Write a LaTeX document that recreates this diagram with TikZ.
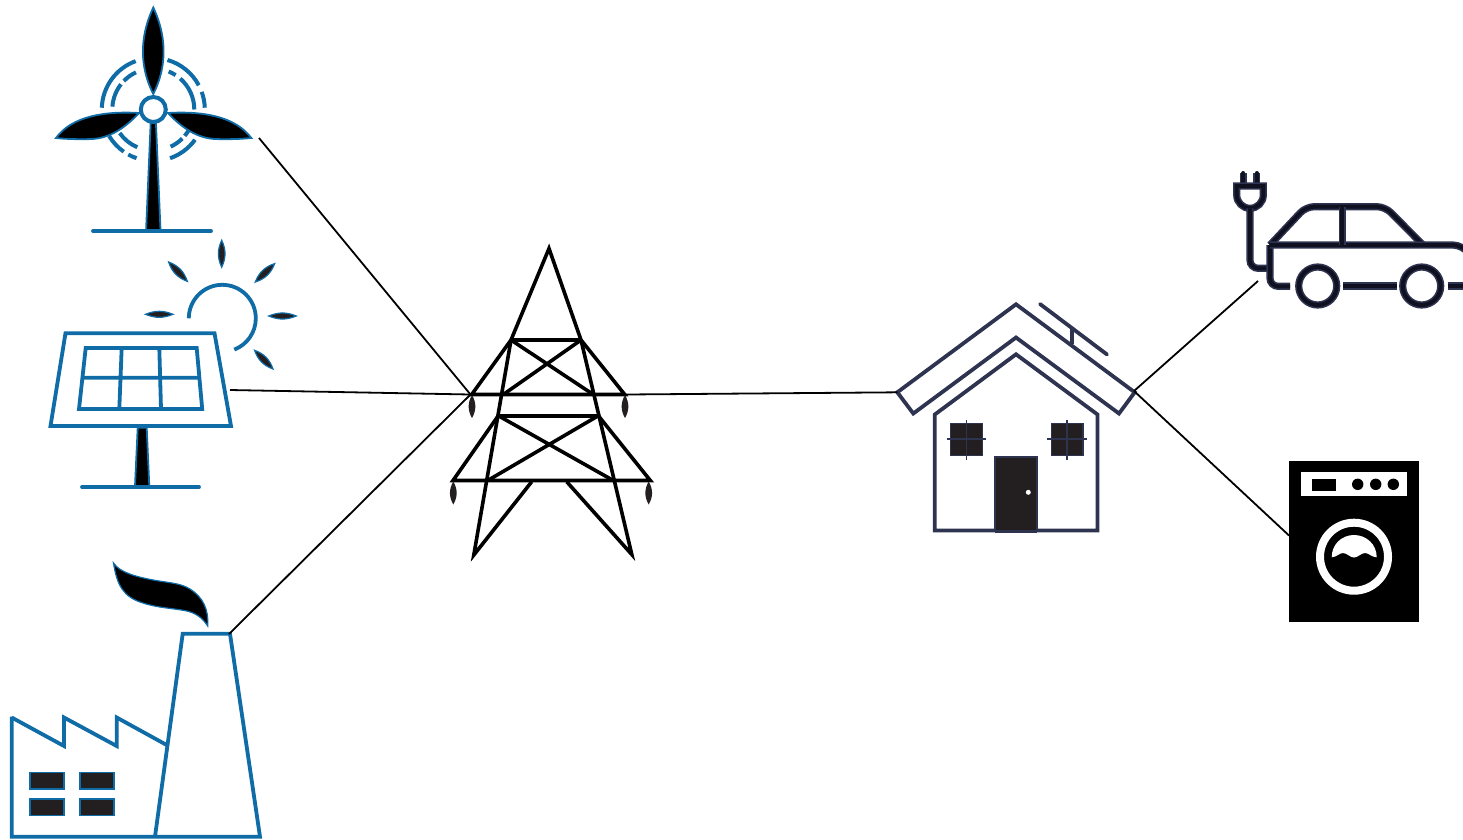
\documentclass[tikz,border=0pt]{standalone}
\usetikzlibrary{calc}
\definecolor{iconblue}{HTML}{0F6CA6}
\definecolor{navy}{HTML}{2E3350}
\definecolor{darkfill}{HTML}{231F20}
\definecolor{carcore}{HTML}{0F1020}
\tikzset{
  wire/.style={draw=black,line width=1.8pt},
  blue/.style={draw=iconblue,line width=3.8pt,line join=miter},
  bluefill/.style={draw=iconblue,line width=1.8pt,fill=black},
  ray/.style={draw=iconblue,line width=1.2pt,fill=darkfill},
  bluewin/.style={draw=iconblue,line width=1.4pt,fill=darkfill},
  steel/.style={draw=black,line width=3.6pt,line join=miter},
  insul/.style={fill=darkfill,draw=none},
  house/.style={draw=navy,line width=3.8pt,line join=miter},
  housefill/.style={draw=navy,line width=1.5pt,fill=darkfill},
  carline/.style={draw=carcore,line width=4pt,preaction={draw=navy,line width=7.2pt}},
}
\begin{document}
\begin{tikzpicture}[x=1pt,y=-1pt]
\useasboundingbox (0,0) rectangle (1463,839);
\clip (0,0) rectangle (1463,839);
% connector ends
\coordinate (windEnd) at (259,138);
\coordinate (solarEnd) at (230,390);
\coordinate (factoryEnd) at (229,634);
\coordinate (pylonWest) at (470.5,394.5);
\coordinate (pylonEast) at (626,394.5);
\coordinate (houseWest) at (897.3,392.3);
\coordinate (houseEast) at (1134,391);
\coordinate (carEnd) at (1258,281);
\coordinate (washerEnd) at (1289,535.5);
% wind turbine
\begin{scope}[shift={(153.3,109.5)},x=1pt,y=1pt]
  \foreach \a/\b in {178/110,74/28,20/2,211/235,241/251,289/324}
    \draw[iconblue,line width=4pt] (\a:51.5pt) arc[start angle=\a,end angle=\b,radius=51.5pt];
  \foreach \a/\b in {176/142,136/115,68/57,49/0,215/247,295/315,320/329}
    \draw[iconblue,line width=4pt] (\a:41pt) arc[start angle=\a,end angle=\b,radius=41pt];
\end{scope}
\path[bluefill] (150.7,122) -- (155.9,122) -- (160.5,230) -- (146.1,230) -- cycle;
\draw[blue,line cap=round] (93,231) -- (211,231);
\path[bluefill] (153.3,7.5) .. controls (138,40) and (141,70) .. (153.3,94) .. controls (165.5,70) and (168.5,40) .. (153.3,7.5) -- cycle;
\path[bluefill] (56,138) .. controls (72,116) and (105,111) .. (139,113) .. controls (125,128) and (110,138) .. (92,139) .. controls (80,139.5) and (65,139) .. (56,138) -- cycle;
\path[bluefill] (251.3,138) .. controls (235,116) and (202,111) .. (168,113) .. controls (182,128) and (197,138) .. (215,139) .. controls (227,139.5) and (242,139) .. (251.3,138) -- cycle;
\draw[iconblue,line width=4pt,fill=white] (153.3,109.5) circle[radius=12.5pt];
% solar panel
\begin{scope}[shift={(222.3,318.3)},x=1pt,y=1pt]
  \draw[iconblue,line width=3.8pt] (180:33.5pt) arc[start angle=180,end angle=-69,radius=33.5pt];
\end{scope}
\path[ray] (221.7,240.3) to[bend left=25] (221.7,267.2) to[bend left=25] (221.7,240.3) -- cycle;
\path[ray] (145.5,314.3) to[bend left=22] (173,314.3) to[bend left=22] (145.5,314.3) -- cycle;
\path[ray] (268.7,316) to[bend left=22] (296.3,316) to[bend left=22] (268.7,316) -- cycle;
\path[ray] (168.6,262) to[bend left=25] (187.4,281.4) to[bend left=25] (168.6,262) -- cycle;
\path[ray] (274.7,263.6) to[bend left=25] (255.3,282) to[bend left=25] (274.7,263.6) -- cycle;
\path[ray] (254.6,350.3) to[bend left=25] (273,369) to[bend left=25] (254.6,350.3) -- cycle;
\draw[blue] (65.5,333.2) -- (214.5,333.2) -- (231,426) -- (50.5,426) -- cycle;
\draw[blue] (85.7,348) -- (196.7,348) -- (202.2,409) -- (79,409) -- cycle;
\draw[blue] (121.7,347.7) -- (119.3,409) (159.3,347.7) -- (161,409) (81.7,377.7) -- (199.7,377.7);
\path[bluefill] (137.7,427.7) -- (146.7,427.7) -- (149.3,486) -- (135,486) -- cycle;
\draw[blue,line cap=round] (82,487) -- (199,487);
% factory
\draw[blue] (11.7,717.5) -- (64,746) -- (64,717.5) -- (116.7,746) -- (116.7,717.5) -- (166.7,745);
\draw[blue] (11.7,716.7) -- (11.7,836.7) -- (260,836.7) -- (230,633.8) -- (182.7,633.8) -- (155,836.7);
\foreach \x/\y in {30/772.7,80/772.7,30/799,80/799}
  \path[bluewin] (\x,\y) rectangle ++(34,16.3);
\path[bluefill,line width=1.2pt] (113.5,563) .. controls (120,573) and (138,577) .. (153,580) .. controls (170,583) and (180,583) .. (190,589) .. controls (203,597) and (209,610) .. (207.7,626) .. controls (202,617) and (195,613) .. (187,611) .. controls (172,608) and (158,608) .. (143,603) .. controls (123,597) and (117,585) .. (113.5,563) -- cycle;
% pylon
\draw[steel] (511,340) -- (549,248.5) -- (581,340);
\draw[steel] (511,340) -- (581,340);
\draw[steel] (511,340) -- (471.7,394.5) -- (624.7,394.5) -- (581,340);
\draw[steel] (511,340) -- (473.8,555) -- (531.7,481.7);
\draw[steel] (581,340) -- (631.8,554.5) -- (566.7,481.7);
\draw[steel] (511,340) -- (593.3,394.5) (581,340) -- (503.3,394.5);
\draw[steel] (498.3,415.7) -- (598.3,415.7);
\draw[steel] (498.3,415.7) -- (453,480.5) -- (650.3,480.5) -- (598.3,415.7);
\draw[steel] (498.3,415.7) -- (613.3,480.5) (598.3,415.7) -- (487.7,480.5);
\foreach \x/\y in {472/395,625/395,453.3/481.5,648.7/481.5}
  \path[insul] (\x,\y) to[bend left=30] (\x,\y+23) to[bend left=30] (\x,\y) -- cycle;
% house
\draw[house] (houseWest) -- (1016,304.3) -- (1134.7,392.3) -- (1119,413.5) -- (1016,337.5) -- (913.3,413.5) -- cycle;
\draw[house] (934.8,414.5) -- (1016,354.3) -- (1097.5,414.5) -- (1097.5,530.5) -- (934.8,530.5) -- cycle;
\draw[house,line cap=round] (1040,304) -- (1107,354.5);
\draw[house] (1072.3,328.3) -- (1072.3,344.3);
\path[housefill] (950.7,423.3) rectangle (982.3,455.7);
\path[housefill] (1051.3,423.3) rectangle (1083,455.7);
\draw[navy,line width=1.2pt] (946.7,439) -- (986,439) (966.7,420) -- (966.7,460);
\draw[navy,line width=1.2pt] (1047.3,439) -- (1086.7,439) (1067,420) -- (1067,460);
\path[housefill,line width=2pt] (995,457.3) rectangle (1037.3,531);
\draw[navy,line width=3pt] (995,531) -- (1037.3,531);
\fill[white] (1028.3,492.3) circle[radius=2.5pt];
% car
\draw[carline,line cap=round] (1243.3,173) -- (1243.3,185);
\draw[carline,line cap=round] (1256.7,173) -- (1256.7,185);
\draw[carline] (1236.7,186) -- (1263.3,186) -- (1263.3,195) arc[start angle=0,end angle=-180,radius=13.3pt] -- cycle;
\draw[carline,rounded corners=8pt] (1250,208.3) -- (1250,268.3) -- (1270,268.3);
\draw[carline,rounded corners=8pt] (1290,286.3) -- (1270,286.3) -- (1270,245);
\draw[carline,rounded corners=8pt] (1270,245) -- (1306,206.7) -- (1385,206.7) -- (1423,245);
\draw[carline,rounded corners=10pt] (1270,245) -- (1463,245) -- (1470,255);
\draw[carline] (1342.3,206.7) -- (1342.3,245);
\draw[carline] (1317.7,286) circle[radius=19pt];
\draw[carline] (1421.7,286) circle[radius=19pt];
\draw[carline] (1343.3,286) -- (1396.7,286);
\draw[carline] (1447.7,286) -- (1463,286);
% washing machine
\fill[black] (1289,460.7) rectangle (1419,621.7);
\fill[white] (1300.7,472.3) rectangle (1407.3,496);
\fill[black] (1312.3,479) rectangle (1335.7,490.7);
\foreach \x in {1357.7,1375.7,1393.3}
  \fill[black] (\x,484.3) circle[radius=5.7pt];
\draw[white,line width=8pt] (1354,556.7) circle[radius=34pt];
\fill[white] (1331.7,557.3) .. controls (1331.7,544) and (1342,535) .. (1354,535) .. controls (1366,535) and (1376.7,544) .. (1376.7,557.3) .. controls (1371,557) and (1369,553) .. (1365,553) .. controls (1361,553) and (1358,557.5) .. (1354,557.5) .. controls (1350,557.5) and (1347,553) .. (1343,553) .. controls (1339,553) and (1337,557) .. (1331.7,557.3) -- cycle;
% connectors
\draw[wire] (windEnd) -- (pylonWest);
\draw[wire] (solarEnd) -- (pylonWest);
\draw[wire] (factoryEnd) -- (pylonWest);
\draw[wire] (pylonEast) -- (houseWest);
\draw[wire] (houseEast) -- (carEnd);
\draw[wire] (houseEast) -- (washerEnd);
\end{tikzpicture}
\end{document}
